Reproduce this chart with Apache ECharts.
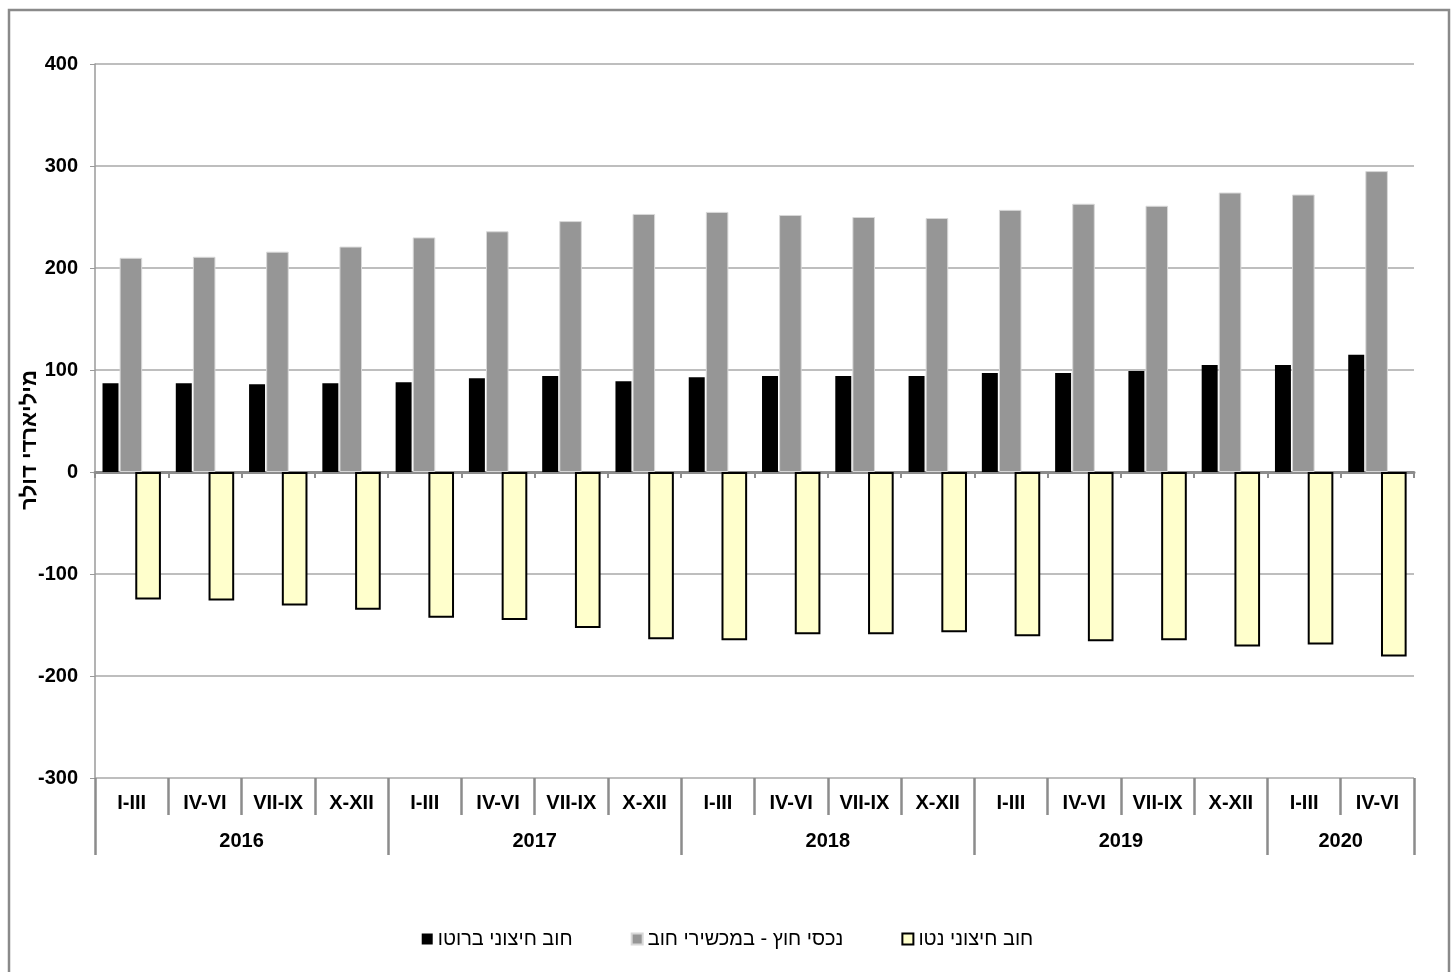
<!DOCTYPE html>
<html>
<head>
<meta charset="utf-8">
<script src="https://cdn.jsdelivr.net/npm/echarts@6/dist/echarts.min.js"></script>
<style>
html,body{margin:0;padding:0;background:#fff;}
#c{width:1455px;height:972px;}
</style>
</head>
<body>
<div id="c"></div>
<script>
// ---- data ----
const quarters = ['I-III','IV-VI','VII-IX','X-XII','I-III','IV-VI','VII-IX','X-XII','I-III','IV-VI','VII-IX','X-XII','I-III','IV-VI','VII-IX','X-XII','I-III','IV-VI'];
const years = ['2016','2017','2018','2019','2020'];
const quartersPerYear = [4,4,4,4,2];
const seriesNames = ['חוב חיצוני ברוטו','נכסי חוץ - במכשירי חוב','חוב חיצוני נטו'];
const grossDebt = [87,87,86,87,88,92,94,89,93,94,94,94,97,97,99,105,105,115];
const assetsDebt = [210,211,216,221,230,236,246,253,255,252,250,249,257,263,261,274,272,295];
const netDebt = [-125,-126,-131,-135,-143,-145,-153,-164,-165,-159,-159,-157,-161,-166,-165,-171,-169,-181];
const yTicks = {min:-300, max:400, interval:100};
const yAxisTitle = 'מיליארדי דולר';

// ---- derived positions for year groups ----
const yearBounds = [0];
quartersPerYear.forEach(n => yearBounds.push(yearBounds[yearBounds.length-1] + n));
const yearCenters = quartersPerYear.map((n,i) => yearBounds[i] + n/2);

const FONT = '"Liberation Sans", Arial, "DejaVu Sans", sans-serif';
const AXIS_GRAY = '#8c8c8c';
const blank = quarters.map(() => '-');

const chart = echarts.init(document.getElementById('c'));
chart.setOption({
  animation: false,
  backgroundColor: '#fff',
  textStyle: {fontFamily: FONT},
  grid: {left: 95, right: 41, top: 64, bottom: 194, containLabel: false},
  legend: {
    data: seriesNames,
    bottom: 18,
    left: 'center',
    itemWidth: 11, itemHeight: 11,
    itemGap: 58,
    textStyle: {fontFamily: FONT, fontSize: 20, color: '#000'},
    icon: 'rect'
  },
  graphic: [
    {type: 'rect', shape: {x: 9, y: 10, width: 1440, height: 975}, style: {fill: 'none', stroke: '#8a8a8a', lineWidth: 2.5}, silent: true},
    {type: 'text', x: 30, y: 440, rotation: Math.PI/2,
     style: {text: yAxisTitle, font: 'bold 22px ' + FONT, fill: '#000', textAlign: 'center', textVerticalAlign: 'middle'}}
  ],
  xAxis: [
    { // zero line with ticks, bars black+gray
      type: 'category', data: quarters, position: 'bottom',
      axisLine: {onZero: true, lineStyle: {color: AXIS_GRAY, width: 3}},
      axisTick: {show: true, length: 6, lineStyle: {color: AXIS_GRAY, width: 2}},
      axisLabel: {show: false}, splitLine: {show: false}
    },
    { // overlay axis for net bars
      type: 'category', data: quarters, show: false
    },
    { // quarter labels at bottom
      type: 'category', data: quarters, position: 'bottom',
      axisLine: {show: false, onZero: false},
      axisTick: {show: true, length: 37, lineStyle: {color: AXIS_GRAY, width: 2.5}},
      axisLabel: {show: true, margin: 15, fontSize: 20, fontWeight: 'bold', color: '#000', fontFamily: FONT, interval: 0},
      splitLine: {show: false}
    },
    { // year groups
      type: 'value', min: 0, max: quarters.length, position: 'bottom',
      axisLine: {show: false, onZero: false},
      axisTick: {show: true, length: 77, customValues: yearBounds, lineStyle: {color: AXIS_GRAY, width: 2.5}},
      axisLabel: {show: true, margin: 53, customValues: yearCenters,
        formatter: function (v) { const i = yearCenters.indexOf(v); return i >= 0 ? years[i] : ''; },
        fontSize: 20, fontWeight: 'bold', color: '#000', fontFamily: FONT},
      splitLine: {show: false}
    }
  ],
  yAxis: {
    type: 'value', min: yTicks.min, max: yTicks.max, interval: yTicks.interval,
    axisLine: {show: true, lineStyle: {color: '#9a9a9a', width: 1.5}},
    axisTick: {show: true, length: 5, lineStyle: {color: '#9a9a9a'}},
    axisLabel: {fontSize: 20, fontWeight: 'bold', color: '#000', margin: 17, fontFamily: FONT},
    splitLine: {show: true, lineStyle: {color: '#a8a8a8', width: 1.5}}
  },
  series: [
    {name: seriesNames[0], type: 'bar', xAxisIndex: 0, data: grossDebt, barWidth: '21.8%', barGap: '7%',
     itemStyle: {color: '#000', borderColor: '#000', borderWidth: 0}, z: 3},
    {name: seriesNames[1], type: 'bar', xAxisIndex: 0, data: assetsDebt, barWidth: '30.8%', barGap: '7%',
     itemStyle: {color: '#969696', borderColor: '#d8d8d8', borderWidth: 1}, z: 3},
    {type: 'bar', xAxisIndex: 0, data: blank, barWidth: '23.2%', barGap: '7%', silent: true, itemStyle: {color: 'transparent'}},
    {type: 'bar', xAxisIndex: 1, data: blank, barWidth: '44.9%', barGap: '0%', silent: true, itemStyle: {color: 'transparent'}},
    {name: seriesNames[2], type: 'bar', xAxisIndex: 1, data: netDebt, barWidth: '35%', barGap: '0%',
     itemStyle: {color: '#FFFFCC', borderColor: '#000', borderWidth: 2}, z: 3}
  ]
});
</script>
</body>
</html>
